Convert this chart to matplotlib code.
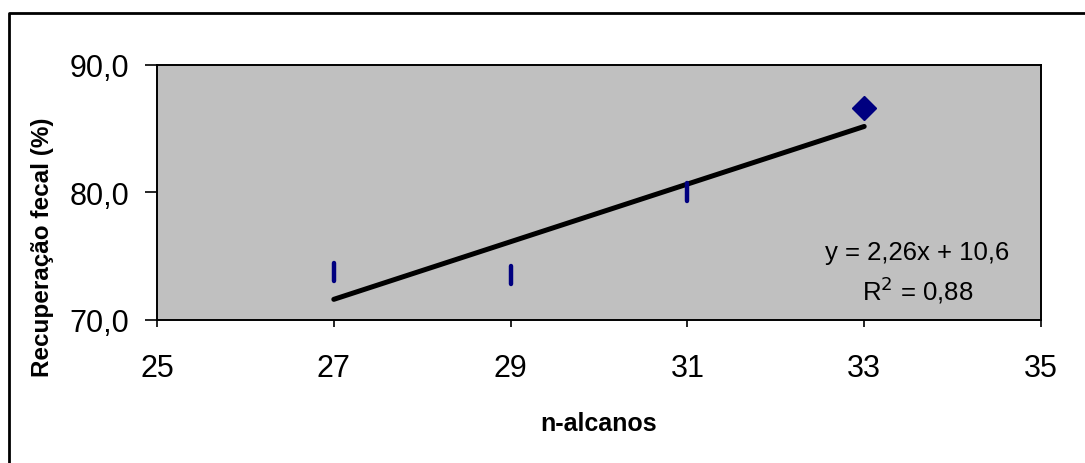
import numpy as np
import matplotlib.pyplot as plt
from matplotlib.lines import Line2D
from matplotlib.markers import MarkerStyle
from matplotlib.ticker import FuncFormatter

plt.rcParams['font.family'] = ['Liberation Sans', 'DejaVu Sans']

# n-alkane chain length vs fecal recovery (%)
alcanos = [27, 29, 31, 33]
recuperacao = [73.8, 73.5, 80.0, 86.6]

# linear trend shown on the chart
slope = 2.26
intercept = 10.6
r2 = 0.88

xticks = [25, 27, 29, 31, 33, 35]
yticks = [70, 80, 90]

fig = plt.figure(figsize=(10.85, 4.64), dpi=100)
ax = fig.add_axes([157 / 1085, 1 - 321 / 464, (1041 - 157) / 1085, (321 - 66) / 464])
ax.set_facecolor('#C0C0C0')

# the first three points look like thin vertical bars, the last one a diamond
ax.plot(alcanos[:3], recuperacao[:3], linestyle='none',
        marker=MarkerStyle('|', capstyle='round'),
        markersize=13, markeredgewidth=3.2, color='#000080', zorder=3)
ax.plot(alcanos[3:], recuperacao[3:], linestyle='none', marker='D',
        markersize=12, color='#000080', zorder=3)

xfit = np.array([alcanos[0], alcanos[-1]])
ax.plot(xfit, slope * xfit + intercept, color='black', linewidth=3.6,
        solid_capstyle='round', zorder=2)

ax.set_xlim(25, 35)
ax.set_ylim(70, 90)
ax.set_xticks(xticks)
ax.set_yticks(yticks)
ax.yaxis.set_major_formatter(FuncFormatter(lambda v, p: f"{v:.1f}".replace('.', ',')))
ax.tick_params(axis='y', direction='out', length=9, width=1.2, labelsize=22, pad=11)
ax.tick_params(axis='x', direction='out', length=5, width=1.2, labelsize=22, pad=19)
for s in ax.spines.values():
    s.set_linewidth(1.4)

ax.set_xlabel('n-alcanos', fontsize=18, fontweight='bold', labelpad=20)
ax.set_ylabel('Recuperação fecal (%)', fontsize=17.5, fontweight='bold')
# Excel centres the title on the whole chart area, so it sits below the plot centre
ax.yaxis.set_label_coords(-0.116, 0.29)

ax.text(0.86, 0.265, f"y = {slope:.2f}x + {intercept:.1f}".replace('.', ','),
        transform=ax.transAxes, ha='center', va='center', fontsize=18.5)
ax.text(0.86, 0.12, f"R$^2$ = {r2:.2f}".replace('.', ','),
        transform=ax.transAxes, ha='center', va='center', fontsize=18.5)

# chart area border (only top and left edges visible in the crop)
fig.add_artist(Line2D([9 / 1085, 9 / 1085, 1.0], [0.0, 1 - 14 / 464, 1 - 14 / 464],
                      transform=fig.transFigure, color='black', linewidth=2))

fig.savefig('out.png', dpi=100)
